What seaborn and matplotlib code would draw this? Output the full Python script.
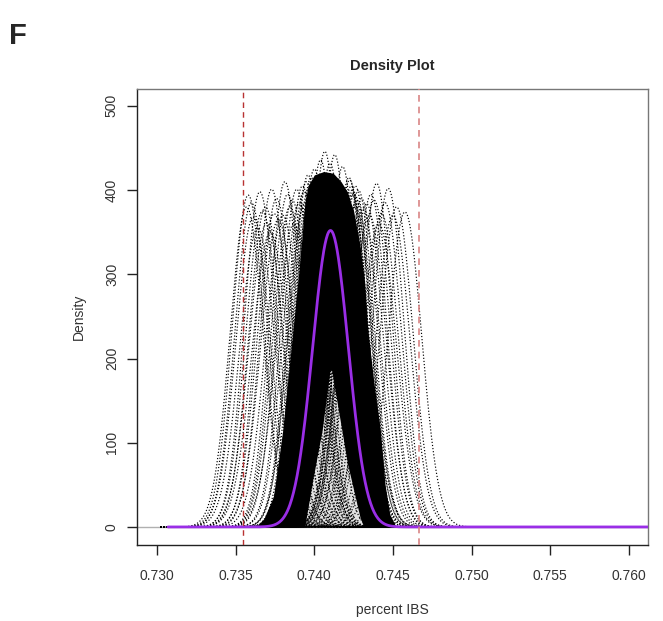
import numpy as np
import pandas as pd
import seaborn as sns
import matplotlib
matplotlib.use('Agg')
import matplotlib.pyplot as plt

## DATA ##
# single sample curves outside the dense bundle: centre and peak height
left_centres = [0.73580, 0.73612, 0.73654, 0.73640, 0.73697, 0.73729, 0.73690, 0.73771,
                0.73760, 0.73813, 0.73800, 0.73845, 0.73888, 0.73870, 0.73830, 0.73905,
                0.73925, 0.73860, 0.73745, 0.73720, 0.73670, 0.73600, 0.73570]
left_peaks = [394, 368, 398, 355, 361, 401, 380, 365,
              390, 410, 370, 380, 401, 360, 395, 385,
              405, 388, 372, 350, 375, 385, 380]
right_centres = [0.74396, 0.74470, 0.74523, 0.74576, 0.74427, 0.74332, 0.74360,
                 0.74300, 0.74280, 0.74450, 0.74500, 0.74350, 0.74260, 0.74240,
                 0.74310, 0.74380, 0.74410]
right_peaks = [408, 402, 380, 374, 372, 384, 395,
               390, 400, 385, 370, 370, 405, 395,
               378, 388, 360]
# curves along the edges of the bundle, giving its ragged border
fringe_centres = [0.73935, 0.73950, 0.73965, 0.73980, 0.73940, 0.73972,
                  0.74225, 0.74240, 0.74255, 0.74270, 0.74235, 0.74262]
fringe_peaks = [398, 410, 402, 415, 385, 392,
                412, 400, 395, 388, 405, 380]
top_centres = [0.74067, 0.74130, 0.74000, 0.74180, 0.74100, 0.73960, 0.74220, 0.74040]
top_peaks = [446, 442, 425, 428, 432, 418, 415, 436]

# upper edge of the solid black bundle
core_x = [0.7363, 0.7368, 0.7374, 0.7380, 0.7386, 0.7390, 0.7392, 0.7394, 0.7396, 0.7400,
          0.7406, 0.7412, 0.7417, 0.7421, 0.7425, 0.7429, 0.7432, 0.7434, 0.7438, 0.7442,
          0.7445, 0.7448, 0.7452]
core_top = [0, 10, 36, 115, 226, 300, 341, 385, 405, 418,
            422, 420, 410, 398, 375, 335, 290, 234, 170, 115,
            50, 15, 0]
# lighter gap under the bundle
hole_x = [0.7394, 0.7395, 0.7399, 0.7405, 0.7410, 0.7411, 0.74175, 0.7421, 0.7429, 0.7431]
hole_top = [2, 12, 56, 115, 186, 186, 115, 76, 12, 2]

# pooled density (purple)
pooled_centre = 0.74103
pooled_peak = 352

cutoffs = [0.73546, 0.74665]

## BUILD CURVES ##
rows = []
centres = left_centres + right_centres + fringe_centres + top_centres
peaks = left_peaks + right_peaks + fringe_peaks + top_peaks
for i, (c, p) in enumerate(zip(centres, peaks)):
    sd = 1 / (p * np.sqrt(2 * np.pi))
    xs = np.linspace(max(c - 0.0085, 0.7302), c + 0.0075, 300)
    ys = p * np.exp(-0.5 * ((xs - c) / sd) ** 2)
    rows.append(pd.DataFrame({'x': xs, 'y': ys, 'curve': i}))
df = pd.concat(rows)

sd0 = 1 / (pooled_peak * np.sqrt(2 * np.pi))
px = np.linspace(0.7307, 0.7615, 800)
pooled = pd.DataFrame({'x': px, 'y': pooled_peak * np.exp(-0.5 * ((px - pooled_centre) / sd0) ** 2)})

## PLOT ##
sns.set_theme(style='white')
plt.rcParams['font.family'] = ['Liberation Sans', 'DejaVu Sans']

fig = plt.figure(figsize=(6.63, 6.21), dpi=100)
ax = fig.add_axes([0.2066, 0.1224, 0.7708, 0.7343])

ax.axhline(0, color='#b0b0b0', lw=1, zorder=0)
ax.fill_between(core_x, 0, core_top, color='black', lw=0, zorder=1)
ax.fill_between(hole_x, 0, hole_top, color='#e2e2e2', lw=0, zorder=1.5)

sns.lineplot(data=df, x='x', y='y', units='curve', estimator=None, color='black',
             lw=0.85, linestyle=':', ax=ax, zorder=2)
sns.lineplot(data=pooled, x='x', y='y', color='#9a2ee6', lw=2.0, ax=ax, zorder=3)

ax.axvline(cutoffs[0], color='#b83232', lw=1, linestyle=(0, (4, 3)), zorder=4)
ax.axvline(cutoffs[1], color='#d98585', lw=1.2, linestyle=(0, (4, 3)), zorder=4)

ax.set_xlim(0.72873, 0.76121)
ax.set_ylim(-21.4, 520)
xt = [0.730, 0.735, 0.740, 0.745, 0.750, 0.755, 0.760]
ax.set_xticks(xt)
ax.set_xticklabels(['%.3f' % v for v in xt])
ax.set_yticks([0, 100, 200, 300, 400, 500])
ax.set_yticklabels(['0', '100', '200', '300', '400', '500'], rotation=90, va='center')
ax.tick_params(axis='x', length=7, width=1, color='#222', pad=10, labelsize=10, labelcolor='#333')
ax.tick_params(axis='y', length=7, width=1, color='#222', pad=6, labelsize=10, labelcolor='#333')
ax.tick_params(bottom=True, left=True)

for s in ['left', 'bottom']:
    ax.spines[s].set_color('#222')
for s in ['top', 'right']:
    ax.spines[s].set_color('#777')
for s in ax.spines.values():
    s.set_linewidth(1)
    s.set_visible(True)

ax.set_xlabel('percent IBS', fontsize=10, color='#333', labelpad=15)
ax.set_ylabel('Density', fontsize=10, color='#333', labelpad=14)
ax.set_title('Density Plot', fontsize=10.5, fontweight='bold', pad=14)
ax.grid(False)

fig.text(0.014, 0.965, 'F', fontsize=21, fontweight='bold', va='top', ha='left')

plt.savefig('out.png', dpi=100)
